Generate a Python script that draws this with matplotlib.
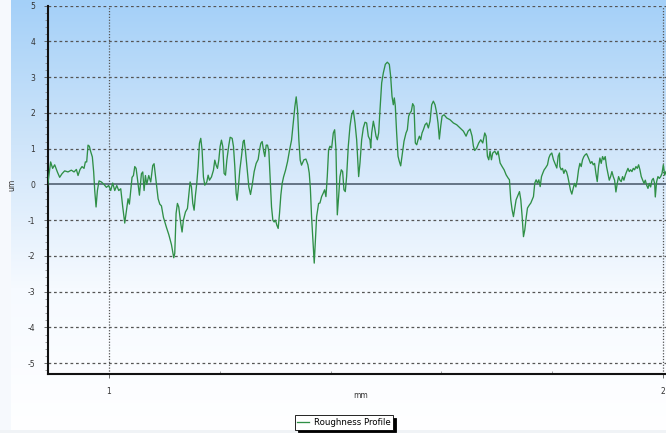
import numpy as np
import matplotlib
matplotlib.use("Agg")
import matplotlib.pyplot as plt
from matplotlib.colors import LinearSegmentedColormap

# ---- data ----
x_mm = [0.8893, 0.8917, 0.8953, 0.8989, 0.9026, 0.9074, 0.9116, 0.9158, 0.9206, 0.9266,
        0.9326, 0.9375, 0.9417, 0.9447, 0.9483, 0.9519, 0.9555, 0.9579, 0.9603, 0.9627,
        0.9651, 0.9675, 0.9705, 0.9729, 0.9748, 0.9772, 0.9796, 0.9826, 0.9868, 0.9916,
        0.9958, 1.0000, 1.0036, 1.0072, 1.0109, 1.0145, 1.0181, 1.0217, 1.0253, 1.0289,
        1.0319, 1.0349, 1.0373, 1.0397, 1.0421, 1.0446, 1.0470, 1.0494, 1.0518, 1.0554,
        1.0590, 1.0614, 1.0638, 1.0662, 1.0686, 1.0722, 1.0758, 1.0794, 1.0818, 1.0854,
        1.0891, 1.0921, 1.0951, 1.0987, 1.1041, 1.1083, 1.1131, 1.1173,
        1.1191, 1.1215, 1.1239, 1.1263, 1.1299, 1.1323, 1.1347, 1.1384, 1.1420, 1.1444,
        1.1468, 1.1492, 1.1516, 1.1540, 1.1564, 1.1588, 1.1612, 1.1636, 1.1660, 1.1684,
        1.1708, 1.1733, 1.1769, 1.1793, 1.1817, 1.1853, 1.1889, 1.1913, 1.1937, 1.1961,
        1.1985, 1.2009, 1.2033, 1.2057, 1.2081, 1.2106, 1.2130, 1.2166, 1.2190, 1.2226,
        1.2250, 1.2274, 1.2298, 1.2316, 1.2334, 1.2364, 1.2394, 1.2424, 1.2442, 1.2467,
        1.2503, 1.2527, 1.2557, 1.2587, 1.2623, 1.2659, 1.2695, 1.2719, 1.2743, 1.2767,
        1.2791, 1.2815, 1.2840, 1.2864, 1.2888, 1.2912, 1.2936, 1.2960, 1.2984, 1.3008,
        1.3032, 1.3056, 1.3080, 1.3104, 1.3128, 1.3153, 1.3189, 1.3225, 1.3261, 1.3297,
        1.3327, 1.3357, 1.3381, 1.3405, 1.3429, 1.3453, 1.3477,
        1.3520, 1.3556, 1.3592, 1.3616, 1.3636, 1.3658, 1.3706, 1.3749, 1.3785,
        1.3809, 1.3839, 1.3869, 1.3893, 1.3917, 1.3941, 1.3965, 1.3990, 1.4020, 1.4050,
        1.4074, 1.4098, 1.4122, 1.4146, 1.4170, 1.4194, 1.4218, 1.4242, 1.4266, 1.4290,
        1.4320, 1.4351, 1.4381, 1.4411, 1.4441, 1.4471, 1.4507, 1.4531, 1.4561, 1.4591,
        1.4621, 1.4651, 1.4681, 1.4711, 1.4724, 1.4742, 1.4772, 1.4796, 1.4820, 1.4844,
        1.4868, 1.4892, 1.4922, 1.4952, 1.4988, 1.5024, 1.5060, 1.5084, 1.5108, 1.5132,
        1.5150, 1.5168, 1.5192, 1.5217, 1.5241, 1.5265, 1.5289, 1.5325, 1.5361, 1.5385,
        1.5409, 1.5433, 1.5457, 1.5481, 1.5505, 1.5529, 1.5554, 1.5578, 1.5602, 1.5626,
        1.5650, 1.5674, 1.5704, 1.5734, 1.5764, 1.5794,
        1.5824, 1.5854, 1.5884, 1.5914, 1.5938, 1.5962, 1.5987, 1.6011, 1.6047, 1.6095,
        1.6155, 1.6215, 1.6275, 1.6336, 1.6396, 1.6444, 1.6480, 1.6516, 1.6552, 1.6576,
        1.6600, 1.6636, 1.6672, 1.6709, 1.6745, 1.6781, 1.6805, 1.6829, 1.6853, 1.6877,
        1.6901, 1.6925, 1.6961, 1.6997, 1.7021, 1.7058, 1.7094, 1.7130, 1.7166, 1.7202,
        1.7226, 1.7250, 1.7274, 1.7298, 1.7322, 1.7346, 1.7382, 1.7407, 1.7431, 1.7455,
        1.7479, 1.7503, 1.7527, 1.7551, 1.7587, 1.7611, 1.7635, 1.7659, 1.7683, 1.7707,
        1.7731, 1.7756, 1.7780, 1.7804, 1.7828, 1.7852, 1.7876, 1.7912, 1.7936, 1.7960,
        1.7990, 1.8020, 1.8056, 1.8080, 1.8105, 1.8129,
        1.8135, 1.8159, 1.8183, 1.8207, 1.8231, 1.8255, 1.8279, 1.8303, 1.8327, 1.8351,
        1.8375, 1.8399, 1.8424, 1.8448, 1.8472, 1.8496, 1.8520, 1.8544, 1.8568, 1.8592,
        1.8616, 1.8640, 1.8664, 1.8688, 1.8713, 1.8737, 1.8761, 1.8785, 1.8809, 1.8833,
        1.8857, 1.8881, 1.8905, 1.8929, 1.8953, 1.8977, 1.9002, 1.9026, 1.9050, 1.9074,
        1.9098, 1.9122, 1.9146, 1.9170, 1.9194, 1.9218, 1.9242, 1.9266, 1.9290, 1.9315,
        1.9339, 1.9363, 1.9387, 1.9411, 1.9435, 1.9459, 1.9483, 1.9507, 1.9531, 1.9555,
        1.9579, 1.9603, 1.9628, 1.9652, 1.9676, 1.9700, 1.9724, 1.9748, 1.9772, 1.9796,
        1.9820, 1.9844, 1.9856, 1.9880, 1.9904, 1.9929, 1.9953, 1.9977, 2.0001, 2.0025,
        2.0049]

height_um = [-0.10, 0.20, 0.63, 0.45, 0.55, 0.35, 0.20, 0.30, 0.38, 0.35,
             0.40, 0.35, 0.42, 0.25, 0.42, 0.50, 0.45, 0.63, 0.63, 1.10,
             1.07, 0.92, 0.77, 0.35, -0.17, -0.63, -0.17, 0.10, 0.07, 0.00,
             -0.08, -0.03, -0.17, 0.04, -0.17, -0.03, -0.17, -0.12, -0.63, -1.08,
             -0.73, -0.40, -0.55, -0.17, 0.20, 0.25, 0.50, 0.45, 0.16, -0.30,
             0.30, 0.35, -0.17, 0.25, 0.00, 0.25, 0.07, 0.53, 0.58, 0.10,
             -0.40, -0.55, -0.60, -0.92, -1.20, -1.40, -1.68, -2.05,
             -1.93, -0.81, -0.53, -0.63, -1.09, -1.33, -1.00, -0.77, -0.67, -0.30,
             0.07, -0.07, -0.53, -0.72, -0.30, 0.03, 0.50, 1.15, 1.29, 0.96,
             0.21, -0.02, 0.07, 0.26, 0.12, 0.21, 0.40, 0.68, 0.54, 0.45,
             0.68, 1.06, 1.24, 1.06, 0.31, 0.26, 0.68, 1.10, 1.32, 1.29,
             1.06, 0.50, -0.25, -0.44, -0.16, 0.40, 0.78, 1.20, 1.24, 0.92,
             0.31, -0.07, -0.28, -0.02, 0.36, 0.59, 0.70, 0.96, 1.15, 1.20,
             0.96, 0.78, 1.10, 1.10, 0.92, 0.12, -0.63, -1.00, -1.05, -1.00,
             -1.14, -1.23, -0.81, -0.30, 0.03, 0.21, 0.40, 0.64, 0.96, 1.24,
             1.71, 2.18, 2.45, 2.08, 1.24, 0.68, 0.54,
             0.69, 0.71, 0.55, 0.32, -0.10, -0.90, -2.20, -0.90, -0.53,
             -0.52, -0.34, -0.24, -0.15, -0.34, 0.22, 0.97, 1.07, 1.02, 1.44,
             1.53, 0.97, -0.85, -0.34, 0.22, 0.41, 0.36, -0.15, -0.20, 0.22,
             1.07, 1.63, 1.95, 2.07, 1.72, 1.25, 0.22, 0.60, 1.25, 1.58,
             1.74, 1.72, 1.35, 1.25, 1.02, 1.44, 1.77, 1.58, 1.35, 1.25,
             1.44, 2.09, 2.84, 3.12, 3.36, 3.42, 3.36, 3.03, 2.47, 2.23,
             2.42, 2.19, 1.44, 0.79, 0.64, 0.52, 0.79, 1.21, 1.44, 1.53,
             1.91, 2.00, 2.05, 2.26, 2.19, 1.16, 1.11, 1.25, 1.35, 1.25,
             1.44, 1.53, 1.67, 1.72, 1.58, 1.77,
             2.23, 2.33, 2.23, 2.00, 1.72, 1.27, 1.63, 1.91, 1.95, 1.86,
             1.81, 1.72, 1.67, 1.58, 1.49, 1.35, 1.49, 1.55, 1.35, 1.07,
             0.95, 1.02, 1.16, 1.25, 1.16, 1.44, 1.35, 0.79, 0.69, 0.93,
             0.69, 0.88, 0.93, 0.83, 0.93, 0.60, 0.50, 0.41, 0.27, 0.18,
             0.13, -0.43, -0.71, -0.90, -0.66, -0.43, -0.29, -0.20, -0.43, -0.90,
             -1.46, -1.27, -0.94, -0.66, -0.57, -0.52, -0.43, -0.34, 0.04, 0.13,
             0.04, 0.13, -0.06, 0.22, 0.32, 0.41, 0.46, 0.55, 0.74, 0.83,
             0.88, 0.69, 0.55, 0.46, 0.79, 0.88,
             0.50, 0.41, 0.45, 0.31, 0.41, 0.36, 0.22, 0.03, -0.16, -0.27,
             -0.11, 0.03, -0.07, 0.12, 0.41, 0.59, 0.50, 0.69, 0.78, 0.83,
             0.86, 0.78, 0.69, 0.59, 0.64, 0.55, 0.59, 0.31, 0.08, 0.50,
             0.74, 0.59, 0.78, 0.69, 0.78, 0.50, 0.31, 0.12, 0.22, 0.36,
             0.22, 0.12, -0.21, 0.03, 0.22, 0.12, 0.08, 0.22, 0.12, 0.26,
             0.36, 0.45, 0.36, 0.41, 0.36, 0.45, 0.41, 0.50, 0.45, 0.55,
             0.41, 0.22, 0.12, 0.03, 0.12, -0.02, -0.11, 0.03, -0.07, 0.12,
             0.17, 0.03, -0.35, 0.08, 0.22, 0.17, 0.22, 0.31, 0.55, 0.26,
             0.36]

x_ticks = [1, 2]
x_tick_labels = ["1", "2"]
y_ticks = [-5, -4, -3, -2, -1, 0, 1, 2, 3, 4, 5]
y_tick_labels = ["-5", "-4", "-3", "-2", "-1", "0", "1", "2", "3", "4", "5"]
series_name = "Roughness Profile"
x_label = "mm"
y_label = "um"

# ---- figure ----
W, H, DPI = 666, 433, 100
fig = plt.figure(figsize=(W / DPI, H / DPI), dpi=DPI)

# background gradient
bg = fig.add_axes([0, 0, 1, 1], zorder=-10)
cmap = LinearSegmentedColormap.from_list("bg", ["#a4d0f8", "#cfe5fa", "#f6faff", "#ffffff"],)
grad = np.linspace(0, 1, 256).reshape(-1, 1)
bg.imshow(grad, aspect="auto", cmap=cmap, extent=[0, 1, 0, 1], origin="upper")
bg.axvspan(0, 11 / W, color="#f6f9fd", lw=0)
bg.axhspan(0, 3 / H, color="#f0f3f6", lw=0)
bg.set_xlim(0, 1); bg.set_ylim(0, 1)
bg.axis("off")

left, right = 47.7 / W, 665.5 / W
top_px, bot_px = 5.7, 374.3
ax = fig.add_axes([left, 1 - bot_px / H, right - left, (bot_px - top_px) / H])
ax.patch.set_alpha(0)

ax.set_xlim(0.890, 2.004)
ax.set_ylim(-5.31, 5.0)

# grid
for yv in y_ticks:
    if yv == 0:
        ax.axhline(0, color="#5b6b7c", lw=1.3, zorder=2)
    else:
        ax.axhline(yv, color="#555555", lw=0.9, ls=(0, (2.2, 2.2)), zorder=1)
for xv in x_ticks:
    ax.axvline(xv, color="#555555", lw=0.9, ls=(0, (1, 1.3)), zorder=1)

ax.plot(x_mm, height_um, color="#2f8f46", lw=0.95, zorder=3, label=series_name)

# spines
for s in ["top", "right"]:
    ax.spines[s].set_visible(False)
ax.spines["left"].set_linewidth(1.5)
ax.spines["bottom"].set_linewidth(1.5)
ax.spines["left"].set_color("#111111")
ax.spines["bottom"].set_color("#111111")

ax.set_xticks(x_ticks)
ax.set_xticklabels(x_tick_labels)
ax.set_xticks([1.2, 1.4, 1.6, 1.8], minor=True)
ax.set_yticks(y_ticks)
ax.set_yticklabels(y_tick_labels)
ax.set_yticks(np.arange(-5.2, 5.01, 0.2), minor=True)
ax.tick_params(axis="both", which="major", labelsize=5.5, colors="#555555",
               labelcolor="#333333", length=3, width=0.6, pad=6)
ax.tick_params(axis="y", which="minor", length=2, width=0.5, colors="#777777")
ax.tick_params(axis="x", which="minor", length=2, width=0.5, colors="#777777", direction="in")

fig.text(361 / W, 1 - 395 / H, x_label, fontsize=5.5, color="#333333",
         ha="center", va="center")
fig.text(12 / W, 1 - 185 / H, y_label, fontsize=5.5, color="#333333",
         ha="center", va="center", rotation=90)

leg = fig.legend(loc="center", bbox_to_anchor=(344 / W, 1 - 422.5 / H), fontsize=6.2,
                 frameon=True, fancybox=False, shadow={"color": "black", "alpha": 1.0},
                 handlelength=1.3, handletextpad=0.6, borderpad=0.3,
                 borderaxespad=0)
leg.get_frame().set_edgecolor("black")
leg.get_frame().set_linewidth(0.6)
leg.get_frame().set_facecolor("white")

fig.savefig("out.png", dpi=DPI)
